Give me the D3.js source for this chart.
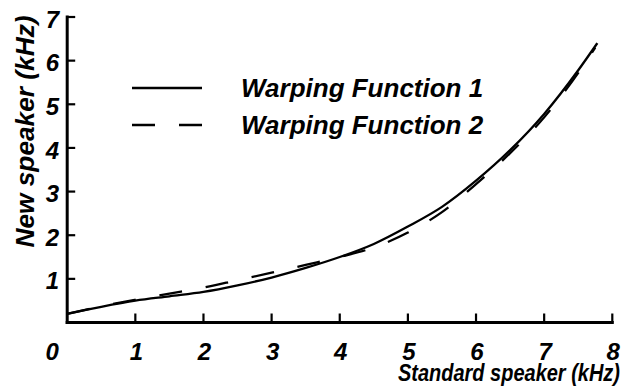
<!DOCTYPE html>
<html>
<head>
<meta charset="utf-8">
<script src="https://cdn.jsdelivr.net/npm/d3@7"></script>
<style>
  html, body { margin: 0; padding: 0; background: #fff; }
  svg { display: block; }
  text { font-family: "Liberation Sans", Arial, sans-serif; font-weight: bold; font-style: italic; fill: #000; }
</style>
</head>
<body>
<svg id="chart" width="624" height="389"></svg>
<script>
// ---- Data ----
const xTicks = [0, 1, 2, 3, 4, 5, 6, 7, 8];
const yTicks = [1, 2, 3, 4, 5, 6, 7];
const yTickLabels = ["1", "2", "3", "4", "5", "6", "7"];
const xTickLabels = ["0", "1", "2", "3", "4", "5", "6", "7", "8"];

const wf1X = [0, 0.5, 1, 1.5, 2, 2.5, 3, 3.5, 4, 4.5, 5, 5.5, 6, 6.5, 7, 7.5, 7.78];
const wf1Y = [0.2, 0.36, 0.5, 0.6, 0.7, 0.85, 1.03, 1.25, 1.5, 1.8, 2.2, 2.65, 3.25, 3.95, 4.78, 5.78, 6.4];

const wf2X = [0, 0.5, 1, 1.5, 2, 2.5, 3, 3.5, 4, 4.5, 5, 5.5, 6, 6.5, 7, 7.5, 7.75];
const wf2Y = [0.2, 0.37, 0.52, 0.66, 0.8, 0.97, 1.14, 1.32, 1.5, 1.72, 2.06, 2.53, 3.17, 3.88, 4.7, 5.72, 6.3];

const seriesNames = ["Warping Function 1", "Warping Function 2"];
const xTitle = "Standard speaker (kHz)";
const yTitle = "New speaker (kHz)";

// ---- Layout ----
const svg = d3.select("#chart");
const x = d3.scaleLinear().domain([0, 8]).range([67.2, 612.3]);
const y = d3.scaleLinear().domain([0, 7]).range([322.5, 17]);

const g = svg.append("g");
g.append("line").attr("x1", x(0)).attr("x2", x(8)).attr("y1", y(0)).attr("y2", y(0))
  .attr("stroke", "#000").attr("stroke-width", 3).attr("stroke-linecap", "square");
g.append("line").attr("x1", x(0)).attr("x2", x(0)).attr("y1", y(0)).attr("y2", y(7))
  .attr("stroke", "#000").attr("stroke-width", 3).attr("stroke-linecap", "square");

// x ticks (inward)
g.selectAll(".xt").data(xTicks.slice(1)).enter().append("line")
  .attr("x1", d => x(d)).attr("x2", d => x(d))
  .attr("y1", y(0)).attr("y2", y(0) - 9)
  .attr("stroke", "#000").attr("stroke-width", 2.2);
// y ticks (inward)
g.selectAll(".yt").data(yTicks).enter().append("line")
  .attr("x1", x(0)).attr("x2", x(0) + 8)
  .attr("y1", d => y(d)).attr("y2", d => y(d))
  .attr("stroke", "#000").attr("stroke-width", 2.2);

// x tick labels
g.selectAll(".xl").data(xTicks).enter().append("text")
  .attr("x", (d, i) => x(d) + (i === 0 ? -15 : 1))
  .attr("y", 360)
  .attr("text-anchor", "middle")
  .attr("font-size", 24)
  .text((d, i) => xTickLabels[i]);

// y tick labels
g.selectAll(".yl").data(yTicks).enter().append("text")
  .attr("x", 59)
  .attr("y", d => y(d) + 2)
  .attr("dy", "0.36em")
  .attr("text-anchor", "end")
  .attr("font-size", 24)
  .text((d, i) => yTickLabels[i]);

// titles
svg.append("text").attr("x", 398).attr("y", 381)
  .attr("font-size", 24).attr("textLength", 222).attr("lengthAdjust", "spacingAndGlyphs")
  .text(xTitle);
svg.append("text").attr("transform", "translate(34,131.5) rotate(-90)")
  .attr("text-anchor", "middle").attr("font-size", 26)
  .attr("textLength", 232).attr("lengthAdjust", "spacingAndGlyphs")
  .text(yTitle);

// curves
const line = d3.line().x(d => x(d[0])).y(d => y(d[1])).curve(d3.curveMonotoneX);
const wf1 = wf1X.map((v, i) => [v, wf1Y[i]]);
const wf2 = wf2X.map((v, i) => [v, wf2Y[i]]);

svg.append("path").datum(wf2).attr("d", line).attr("fill", "none")
  .attr("stroke", "#000").attr("stroke-width", 2.3).attr("stroke-dasharray", "23,24");
svg.append("path").datum(wf1).attr("d", line).attr("fill", "none")
  .attr("stroke", "#000").attr("stroke-width", 2.3);

// legend
const leg = svg.append("g");
leg.append("line").attr("x1", 132).attr("x2", 202).attr("y1", 88).attr("y2", 88)
  .attr("stroke", "#000").attr("stroke-width", 2.3);
leg.append("line").attr("x1", 132).attr("x2", 202).attr("y1", 125).attr("y2", 125)
  .attr("stroke", "#000").attr("stroke-width", 2.3).attr("stroke-dasharray", "23,24");
leg.append("text").attr("x", 241).attr("y", 97).attr("font-size", 26).text(seriesNames[0]);
leg.append("text").attr("x", 241).attr("y", 134).attr("font-size", 26).text(seriesNames[1]);
</script>
</body>
</html>
